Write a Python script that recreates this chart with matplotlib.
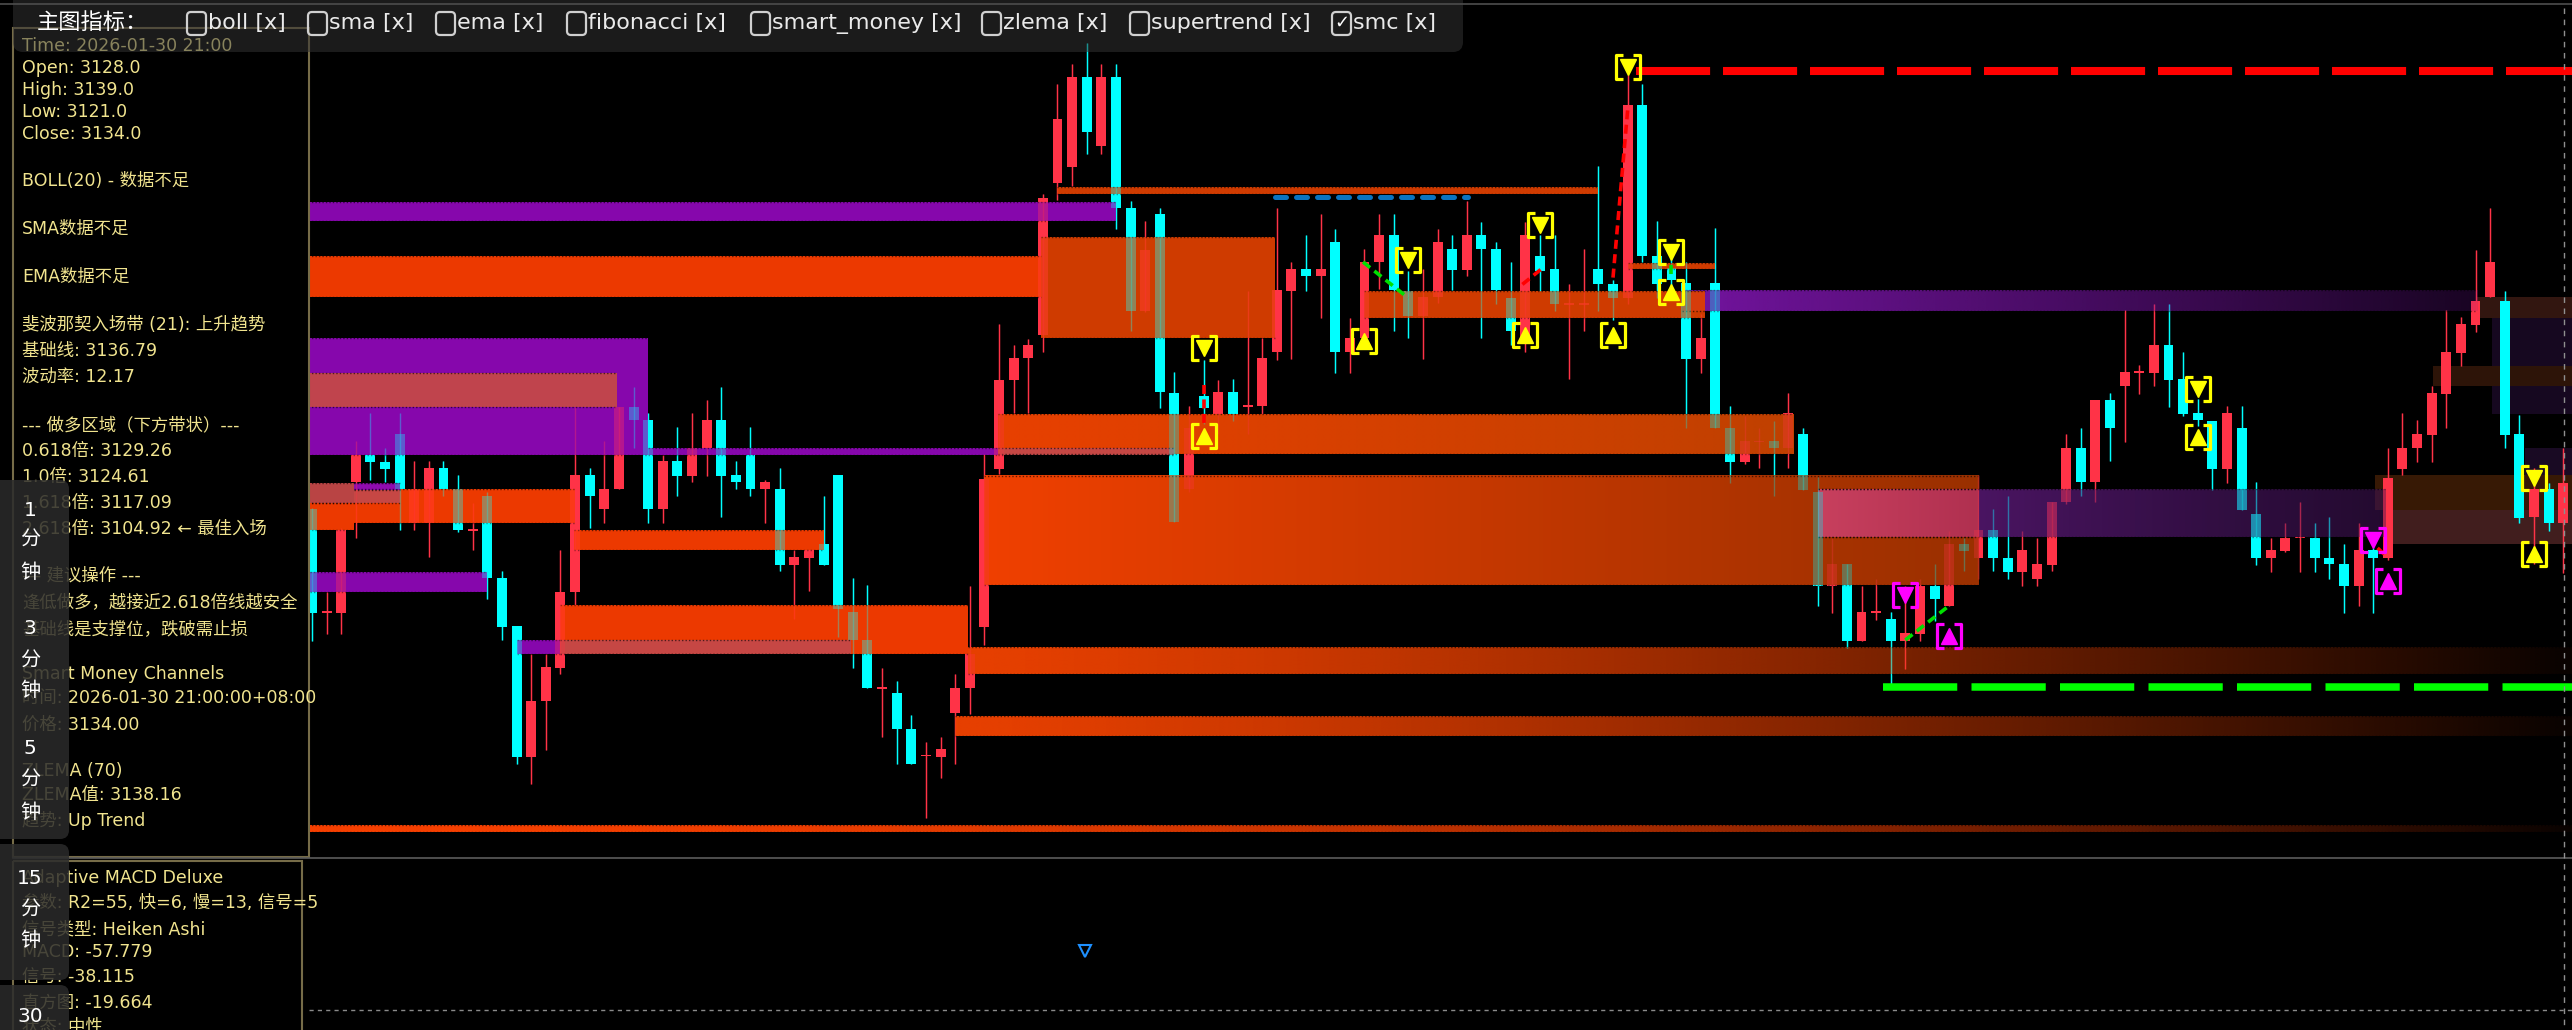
import numpy as np
import matplotlib
matplotlib.use("Agg")
import matplotlib.pyplot as plt
from matplotlib.patches import Rectangle, FancyBboxPatch
from matplotlib.path import Path
from matplotlib.colors import to_rgb

plt.rcParams['font.family'] = ['DejaVu Sans', 'Noto Sans CJK SC']

# ---------------- candle data (hourly bars) ----------------
opens = [3122.7, 3097.0, 3096.8, 3129.4, 3136.3, 3134.6, 3141.5, 3119.3, 3119.3, 3133.0,
         3127.7, 3117.4, 3126.0, 3105.4, 3093.5, 3060.7, 3074.7, 3083.0, 3102.0, 3131.2,
         3122.7, 3127.7, 3148.3, 3145.0, 3122.7, 3134.7, 3131.0, 3137.9, 3145.0, 3131.2,
         3136.3, 3127.7, 3127.7, 3108.8, 3110.5, 3114.0, 3131.3, 3097.0, 3090.0, 3078.0,
         3076.7, 3067.8, 3061.1, 3060.7, 3071.8, 3078.0, 3093.3, 3132.8, 3155.1, 3160.5,
         3166.3, 3204.3, 3208.3, 3230.8, 3213.4, 3230.8, 3197.9, 3172.3, 3196.6, 3151.7,
         3127.7, 3151.0, 3146.5, 3151.9, 3148.4, 3148.4, 3161.9, 3177.2, 3182.8, 3180.9,
         3189.5, 3161.9, 3165.5, 3184.5, 3191.2, 3177.2, 3171.1, 3175.8, 3187.8, 3182.6,
         3191.2, 3187.8, 3175.5, 3165.5, 3186.1, 3182.8, 3173.9, 3173.9, 3182.8, 3179.1,
         3175.5, 3223.8, 3186.1, 3183.0, 3179.2, 3160.3, 3179.2, 3143.1, 3134.5, 3139.6,
         3139.8, 3137.9, 3141.5, 3126.9, 3103.6, 3108.9, 3089.8, 3096.9, 3095.3, 3089.8,
         3091.4, 3103.6, 3098.6, 3113.9, 3110.6, 3117.5, 3110.6, 3107.0, 3105.3, 3108.7,
         3124.5, 3137.9, 3129.4, 3150.0, 3153.4, 3157.0, 3156.8, 3163.7, 3155.3, 3146.8,
         3144.8, 3132.8, 3143.1, 3121.6, 3110.6, 3112.2, 3115.6, 3115.6, 3110.6, 3108.9,
         3103.6, 3112.5, 3110.6, 3132.8, 3137.9, 3141.2, 3151.5, 3161.8, 3168.8, 3175.7,
         3174.7, 3141.5, 3120.8, 3127.8, 3119.2]
highs = [3123.0, 3102.0, 3118.0, 3139.7, 3146.7, 3137.9, 3146.7, 3134.7, 3134.7, 3134.7,
         3131.2, 3124.3, 3127.0, 3107.3, 3093.5, 3086.6, 3086.6, 3112.4, 3148.3, 3133.0,
         3139.7, 3148.3, 3153.3, 3146.7, 3136.3, 3143.3, 3146.7, 3150.0, 3153.3, 3134.7,
         3143.3, 3130.0, 3133.1, 3112.4, 3112.4, 3126.0, 3131.3, 3105.4, 3103.7, 3083.0,
         3079.7, 3071.2, 3064.6, 3065.8, 3081.4, 3103.5, 3136.6, 3168.9, 3163.8, 3165.3,
         3201.5, 3228.9, 3234.0, 3239.3, 3234.0, 3234.0, 3199.8, 3194.7, 3197.9, 3157.0,
         3148.4, 3160.0, 3154.9, 3155.2, 3177.2, 3165.5, 3197.9, 3184.5, 3191.2, 3196.5,
         3192.8, 3170.5, 3187.8, 3196.5, 3196.5, 3182.2, 3182.8, 3192.8, 3191.2, 3199.8,
         3194.5, 3189.5, 3184.5, 3194.5, 3191.2, 3191.2, 3179.1, 3187.8, 3208.5, 3180.0,
         3231.3, 3229.1, 3194.7, 3187.0, 3184.5, 3171.4, 3192.9, 3148.4, 3146.0, 3143.1,
         3144.8, 3151.7, 3143.1, 3130.7, 3115.4, 3109.0, 3103.6, 3105.3, 3097.0, 3103.4,
         3105.3, 3109.0, 3117.3, 3115.6, 3131.2, 3122.7, 3125.9, 3117.3, 3115.4, 3124.5,
         3141.5, 3143.1, 3150.0, 3151.7, 3172.5, 3158.7, 3174.0, 3174.0, 3162.0, 3150.3,
         3144.8, 3148.4, 3148.4, 3129.4, 3115.6, 3119.2, 3124.5, 3119.2, 3120.8, 3113.9,
         3119.2, 3113.0, 3137.9, 3146.7, 3145.0, 3153.4, 3172.5, 3170.7, 3187.6, 3198.0,
         3177.3, 3146.3, 3133.0, 3129.2, 3137.9]
lows = [3089.7, 3091.6, 3091.6, 3115.6, 3129.9, 3129.4, 3117.6, 3117.6, 3110.7, 3126.0,
        3117.0, 3112.4, 3100.3, 3090.0, 3059.0, 3054.0, 3062.6, 3081.4, 3098.7, 3117.9,
        3119.2, 3127.7, 3137.9, 3119.2, 3119.2, 3126.0, 3129.4, 3131.0, 3120.8, 3127.7,
        3126.0, 3119.2, 3107.3, 3095.2, 3102.2, 3108.8, 3090.7, 3083.0, 3078.0, 3065.8,
        3059.1, 3059.1, 3045.4, 3055.6, 3059.1, 3071.6, 3088.8, 3131.5, 3146.8, 3146.8,
        3162.0, 3200.0, 3203.4, 3211.6, 3211.6, 3192.7, 3167.2, 3172.0, 3148.1, 3119.5,
        3127.0, 3144.0, 3141.5, 3144.8, 3141.5, 3146.5, 3160.0, 3160.2, 3177.2, 3170.5,
        3156.8, 3156.8, 3165.5, 3177.8, 3167.2, 3165.5, 3160.2, 3174.2, 3177.5, 3181.1,
        3165.5, 3173.9, 3163.8, 3162.0, 3177.2, 3172.2, 3155.2, 3167.2, 3172.2, 3170.0,
        3173.9, 3184.5, 3175.5, 3176.0, 3143.1, 3156.8, 3143.1, 3129.2, 3134.0, 3132.9,
        3125.9, 3132.9, 3127.5, 3098.6, 3096.7, 3088.1, 3089.8, 3095.0, 3079.0, 3082.8,
        3089.8, 3094.8, 3098.6, 3107.2, 3105.3, 3107.2, 3105.3, 3103.6, 3103.6, 3107.2,
        3124.0, 3125.9, 3124.5, 3134.8, 3139.6, 3151.5, 3153.4, 3148.2, 3146.0, 3143.6,
        3127.5, 3129.2, 3122.5, 3108.7, 3107.0, 3112.0, 3107.0, 3107.0, 3105.3, 3096.7,
        3098.6, 3096.7, 3110.0, 3131.2, 3134.5, 3134.5, 3142.9, 3158.6, 3167.0, 3175.7,
        3137.9, 3119.2, 3109.0, 3117.3, 3106.8]
closes = [3096.8, 3097.0, 3117.6, 3136.3, 3134.6, 3132.7, 3127.7, 3127.7, 3133.0, 3127.7,
          3117.4, 3117.4, 3105.4, 3093.3, 3060.7, 3074.7, 3083.3, 3102.0, 3131.2, 3126.0,
          3127.7, 3148.3, 3145.0, 3122.7, 3134.7, 3131.0, 3137.9, 3145.0, 3131.0, 3129.4,
          3127.7, 3129.4, 3108.8, 3110.7, 3112.4, 3108.8, 3097.7, 3090.0, 3078.0, 3078.0,
          3067.8, 3059.1, 3061.1, 3062.7, 3078.0, 3086.6, 3130.3, 3155.1, 3160.5, 3163.8,
          3200.5, 3220.2, 3230.8, 3217.0, 3230.8, 3197.9, 3172.3, 3187.6, 3152.0, 3119.5,
          3143.0, 3148.0, 3151.9, 3146.5, 3148.4, 3160.5, 3177.5, 3182.8, 3180.9, 3182.8,
          3161.9, 3165.5, 3184.5, 3191.2, 3177.5, 3171.1, 3175.8, 3189.5, 3182.6, 3191.2,
          3187.8, 3177.5, 3167.2, 3191.2, 3182.2, 3173.9, 3173.9, 3173.9, 3179.1, 3175.5,
          3223.8, 3185.9, 3179.1, 3180.0, 3160.3, 3165.4, 3143.1, 3134.5, 3139.8, 3139.6,
          3137.9, 3146.7, 3127.5, 3103.6, 3108.9, 3089.8, 3097.0, 3096.9, 3089.8, 3091.7,
          3103.6, 3100.3, 3113.9, 3112.2, 3117.5, 3110.6, 3107.0, 3112.5, 3108.9, 3124.5,
          3137.9, 3129.4, 3150.0, 3143.1, 3157.0, 3157.0, 3163.7, 3155.1, 3146.5, 3145.0,
          3132.8, 3146.8, 3122.5, 3110.6, 3112.5, 3115.4, 3115.6, 3110.6, 3108.9, 3103.6,
          3112.5, 3110.6, 3130.4, 3138.1, 3141.5, 3151.7, 3162.0, 3169.0, 3174.7, 3184.5,
          3141.2, 3120.6, 3127.8, 3119.2, 3129.2]

# ---------------- SMC zones: (start bar, end bar, top, bottom) ----------------
orange_zones = [(-0.3, 49.9, 3186.0, 3175.75), (-0.3, 2.9, 3124.25, 3117.5),
                (2.9, 18.0, 3127.75, 3119.25), (17.9, 35.0, 3117.5, 3112.5),
                (17.0, 44.9, 3098.75, 3086.5)]
muted_zones = [(49.9, 65.9, 3190.75, 3165.5), (51.0, 88.0, 3203.25, 3201.5),
               (90.0, 96.0, 3184.25, 3182.75), (72.0, 95.3, 3177.25, 3170.5)]
purple_zones = [(-0.3, 55.0, 3199.5, 3194.75), (-0.3, 23.0, 3165.5, 3136.25),
                (-0.1, 12.0, 3107.0, 3102.0), (23.0, 46.9, 3138.0, 3136.25)]
salmon_zones = [(-0.3, 20.9, 3156.75, 3148.25), (-0.3, 6.0, 3129.25, 3124.25),
                (17.0, 36.9, 3090.0, 3086.5), (46.9, 59.0, 3138.0, 3136.25)]
small_purple = [(2.9, 6.0, 3129.25, 3127.5), (14.0, 17.0, 3090.0, 3086.5)]
fade_zones = [(46.9, 101.3, 3146.5, 3136.5), (46.0, 114.0, 3131.1, 3103.75),
              (44.9, 154.6, 3088.25, 3081.5), (44.0, 154.6, 3071.0, 3066.1),
              (-0.3, 154.6, 3043.75, 3042.0), (93.7, 148.1, 3177.4, 3172.25),
              (103.0, 141.8, 3127.75, 3115.75), (103.0, 114.0, 3127.75, 3115.75)]
fade_styles = [('#E84000', '#C04000', 1.0, 1.0, 1.0), ('#F04000', '#9A3000', 1.0, 1.0, 1.0),
               ('#E84000', '#E84000', 1.0, 0.04, 1.3), ('#E84000', '#E84000', 1.0, 0.04, 1.3),
               ('#F84000', '#F84000', 1.0, 0.04, 2.0), ('#7414A0', '#7414A0', 1.0, 0.22, 1.0),
               ('#5E1A7C', '#3C1250', 1.0, 0.6, 1.0), ('#C8405E', '#B03050', 1.0, 1.0, 1.0)]
dark_zones = [(148.1, 154.6, 3175.75, 3170.5), (149.1, 154.6, 3170.5, 3146.5),
              (145.1, 154.6, 3158.5, 3153.5), (151.4, 154.6, 3138.0, 3131.25),
              (141.1, 154.6, 3131.25, 3122.5), (142.0, 154.6, 3122.5, 3114.0)]
dark_colors = ['#321610', '#160820', '#2D1408', '#190A23', '#371905', '#411E1E']

# structure markers (bar, price)
sell_x = [61, 75, 84, 90, 93, 129, 152]
sell_y = [3163.0, 3185.0, 3193.75, 3233.25, 3187.0, 3152.75, 3130.4]
buy_x = [61, 72, 83, 89, 93, 129, 152]
buy_y = [3141.0, 3164.75, 3166.25, 3166.25, 3176.9, 3140.85, 3111.6]
msell_x = [109, 141]
msell_y = [3101.25, 3114.9]
mbuy_x = [112, 142]
mbuy_y = [3091.1, 3104.75]

# key levels: (start bar, end bar, price)
red_level = (90.6, 154.6, 3232.25)
green_level = (107.5, 154.6, 3078.25)
blue_level = (65.9, 79.1, 3200.75)
# swing links: (x0, y0, x1, y1, colour)
links = [(71.9, 3184.5, 75.0, 3175.5, '#00E000'), (82.8, 3178.9, 84.1, 3182.75, '#FF0000'),
         (89.0, 3180.6, 90.0, 3222.4, '#FF0000'), (109.0, 3090.0, 112.0, 3098.6, '#00E000'),
         (61.0, 3153.75, 61.0, 3143.75, '#FF0000'), (93.0, 3183.75, 93.0, 3181.0, '#00E000'),
         (141.3, 3113.0, 142.0, 3110.6, '#FF0000')]

# MACD pane signal
macd_sig_x = [52.9]
macd_sig_y = [26.6]

# ---------------- text ----------------
menu_items = ["boll [x]", "sma [x]", "ema [x]", "fibonacci [x]", "smart_money [x]",
              "zlema [x]", "supertrend [x]", "smc [x]"]
menu_checked = [False, False, False, False, False, False, False, True]
panel_time = "Time: 2026-01-30 21:00"
panel_lines = ["Open: 3128.0", "High: 3139.0", "Low: 3121.0", "Close: 3134.0",
               "BOLL(20) - 数据不足", "SMA数据不足", "EMA数据不足",
               "斐波那契入场带 (21): 上升趋势", "基础线: 3136.79", "波动率: 12.17",
               "--- 做多区域（下方带状）---", "0.618倍: 3129.26", "1.0倍: 3124.61",
               "1.618倍: 3117.09", "2.618倍: 3104.92 ← 最佳入场",
               "--- 建议操作 ---", "逢低做多，越接近2.618倍线越安全", "基础线是支撑位，跌破需止损",
               "Smart Money Channels", "时间: 2026-01-30 21:00:00+08:00", "价格: 3134.00",
               "ZLEMA (70)", "ZLEMA值: 3138.16", "趋势: Up Trend"]
macd_lines = ["Adaptive MACD Deluxe", "参数: R2=55, 快=6, 慢=13, 信号=5",
              "信号类型: Heiken Ashi", "MACD: -57.779", "信号: -38.115",
              "直方图: -19.664", "状态: 中性"]
tab_labels = ["1", "分", "钟", "3", "分", "钟", "5", "分", "钟", "15", "分", "钟", "30"]

# ---------------- layout (pixels) ----------------
W, H = 2572, 1030
panel_y = [68, 90, 112, 134, 181, 229, 277, 325, 351, 377, 425, 451, 477, 503, 529,
           576, 603, 629, 674, 698, 725, 771, 795, 820]
macd_y = [878, 903, 929, 952, 977, 1003, 1027]
tab_y = [510, 540, 573, 629, 661, 691, 748, 780, 812, 878, 910, 941, 1017]
menu_box_x = [187, 308, 436, 567, 751, 982, 1130, 1332]

RED = '#FF3347'
CYAN = '#00FFFF'
TXT = '#F1E48F'

fig = plt.figure(figsize=(W / 100, H / 100), dpi=100, facecolor='black')
ax = fig.add_axes([309 / W, 1 - 857 / H, (W - 309) / W, 857 / H])
ax2 = fig.add_axes([309 / W, 0, (W - 309) / W, (H - 859) / H])
for a in (ax, ax2):
    a.set_facecolor('black')
    for s in a.spines.values():
        s.set_visible(False)
    a.set_xticks([])
    a.set_yticks([])

o = np.array(opens)
c = np.array(closes)
hi = np.array(highs)
lo = np.array(lows)
xs = np.arange(len(o))
col = np.where(c >= o, RED, CYAN)
doji = np.abs(c - o) < 0.4
body_h = np.where(doji, 0.45, np.abs(c - o))
body_b = np.where(doji, o - 0.22, np.minimum(o, c))


def draw_candles(alpha, z):
    ax.vlines(xs, lo, hi, colors=col, lw=1.0, alpha=alpha, zorder=z)
    ax.bar(xs, body_h, bottom=body_b, width=0.68, color=col, lw=0, alpha=alpha, zorder=z)


def edges(x0, x1, top, bot, z):
    ax.hlines([top, bot], x0, x1, colors='black', linestyles=(0, (1, 1.5)),
              lw=1.0, alpha=0.6, zorder=z + 0.1)


def flat_zone(zones, color, z=3, alpha=0.95):
    for x0, x1, top, bot in zones:
        ax.add_patch(Rectangle((x0, bot), x1 - x0, top - bot, fc=color, ec='none',
                               alpha=alpha, zorder=z))
        edges(x0, x1, top, bot, z)


def fade_zone(x0, x1, top, bot, c0, c1, a0, a1, gamma, z=3):
    t = np.linspace(0, 1, 300)
    rgba = np.zeros((1, t.size, 4))
    rgba[0, :, :3] = np.outer(1 - t, to_rgb(c0)) + np.outer(t, to_rgb(c1))
    rgba[0, :, 3] = a0 + (a1 - a0) * t ** gamma
    ax.imshow(rgba, extent=[x0, x1, bot, top], origin='lower', aspect='auto',
              interpolation='bilinear', zorder=z)
    edges(x0, x1, top, bot, z)


# dark faded blocks sit under the candles
for (x0, x1, top, bot), dc in zip(dark_zones, dark_colors):
    ax.add_patch(Rectangle((x0, bot), x1 - x0, top - bot, fc=dc, ec='none', zorder=1))

draw_candles(1.0, 2)

for zone, st in zip(fade_zones, fade_styles):
    fade_zone(*zone, *st)
flat_zone(orange_zones, '#FA3D00')
flat_zone(muted_zones, '#E04000', alpha=0.93)
flat_zone(purple_zones, '#8E08B6')
flat_zone(salmon_zones, '#C44848')
flat_zone(small_purple, '#8E08B6')

# candles faintly showing through the zones
draw_candles(0.3, 4)

# levels
ax.hlines(red_level[2], red_level[0], red_level[1], colors='#FF0000', lw=5.8,
          linestyles=(0, (9.2, 1.6)), zorder=5)
ax.hlines(green_level[2], green_level[0], green_level[1], colors='#00FF00', lw=5.4,
          linestyles=(0, (9.9, 1.9)), zorder=5)
ax.plot([blue_level[0], blue_level[1]], [blue_level[2]] * 2, color='#0A74C0', lw=3.6,
        ls=(0, (2.2, 2.0)), dash_capstyle='round', zorder=5)
for x0, y0, x1, y1, lc in links:
    ax.plot([x0, x1], [y0, y1], color=lc, lw=2.6, ls=(0, (2.5, 1.5)), zorder=5)

bracket = Path([(-0.4, 1), (-1, 1), (-1, -1), (-0.4, -1),
                (0.4, 1), (1, 1), (1, -1), (0.4, -1)],
               [Path.MOVETO, Path.LINETO, Path.LINETO, Path.LINETO] * 2)


def signal(xv, yv, mk, color):
    ax.plot(xv, yv, ls='none', marker=bracket, ms=17, mfc='none', mec=color, mew=2.3, zorder=7)
    ax.plot(xv, yv, ls='none', marker=mk, ms=12, color=color, mec=color, zorder=7)


signal(sell_x, sell_y, 'v', '#FFFF00')
signal(buy_x, buy_y, '^', '#FFFF00')
signal(msell_x, msell_y, 'v', '#FF00FF')
signal(mbuy_x, mbuy_y, '^', '#FF00FF')

ax.set_xlim(-0.2, 154.6)
ax.set_ylim(3035.75, 3250)

# MACD pane
ax2.axhline(0, color='#8a8a8a', lw=1, ls=(0, (3, 3)))
ax2.plot(macd_sig_x, macd_sig_y, ls='none', marker='v', ms=9, mfc='none', mec='#1E90FF', mew=1.5)
ax2.set_xlim(-0.2, 154.6)
ax2.set_ylim(-9, 68)

# ---------------- overlay in pixel coordinates ----------------
ov = fig.add_axes([0, 0, 1, 1])
ov.set_xlim(0, W)
ov.set_ylim(H, 0)
ov.axis('off')

ov.add_patch(Rectangle((13, 28), 296, 829, fill=False, ec='#766C48', lw=1.5, zorder=2))
ov.add_patch(Rectangle((13, 861), 289, 190, fill=False, ec='#766C48', lw=1.5, zorder=2))
ov.plot([13, W], [857.5, 857.5], color='#5c5c5c', lw=1.2, zorder=2)
ov.plot([2564, 2564], [8, H], color='#8f8f8f', lw=1, ls=(0, (4, 4)), zorder=2)

ov.text(22, 46, panel_time, color=TXT, fontsize=12.5, va='center', zorder=3)
for s, y in zip(panel_lines, panel_y):
    ov.text(22, y, s, color=TXT, fontsize=12.5, va='center', zorder=3)
for s, y in zip(macd_lines, macd_y):
    ov.text(22, y, s, color=TXT, fontsize=12.5, va='center', zorder=3)

# timeframe tabs
for y0, y1 in [(480, 839), (844, 980), (985, 1060)]:
    ov.add_patch(FancyBboxPatch((-12, y0), 81, y1 - y0, boxstyle='round,pad=0,rounding_size=9',
                                fc='#2b2b2b', ec='none', alpha=0.86, zorder=5))
for s, y in zip(tab_labels, tab_y):
    ov.text(30, y, s, color='white', fontsize=14.5, ha='center', va='center', zorder=6)

# indicator toolbar
ov.add_patch(FancyBboxPatch((13, -14), 1450, 66, boxstyle='round,pad=0,rounding_size=10',
                            fc='#333333', ec='none', alpha=0.55, zorder=6))
ov.plot([0, W], [4, 4], color='#4d4d4d', lw=1.2, zorder=7)
ov.text(37, 23, "主图指标：", color='white', fontsize=16, va='center', zorder=8)
for bx, label, chk in zip(menu_box_x, menu_items, menu_checked):
    ov.add_patch(FancyBboxPatch((bx, 12), 19, 23, boxstyle='round,pad=0,rounding_size=4',
                                fc='none', ec='#D0D0D0', lw=1.6, zorder=8))
    if chk:
        ov.text(bx + 9.5, 23, "✓", color='white', fontsize=13, ha='center', va='center', zorder=8)
    ov.text(bx + 21, 23, label, color='#EAEAEA', fontsize=16, va='center', zorder=8)

fig.savefig('out.png', dpi=100, facecolor='black')
